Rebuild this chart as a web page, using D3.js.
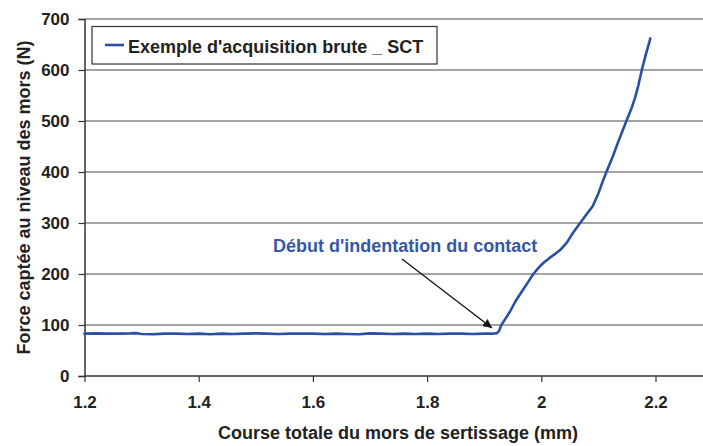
<!DOCTYPE html>
<html><head><meta charset="utf-8">
<script src="https://cdn.jsdelivr.net/npm/d3@7/dist/d3.min.js"></script>
<style>body{margin:0;background:#fff}svg{display:block}text{font-family:"Liberation Sans",Arial,sans-serif;font-weight:bold}</style>
</head><body>
<svg id="c" width="703" height="446"></svg>
<script>
const courseX = [1.20,1.22,1.24,1.26,1.28,1.29,1.30,1.32,1.34,1.36,1.38,1.40,1.42,1.44,1.46,1.48,1.50,1.52,1.54,1.56,1.58,1.60,1.62,1.64,1.66,1.68,1.70,1.72,1.74,1.76,1.78,1.80,1.82,1.84,1.86,1.88,1.90,1.915,1.922,1.926,1.930,1.937,1.945,1.955,1.968,1.978,1.986,1.995,2.003,2.015,2.025,2.033,2.045,2.055,2.068,2.080,2.090,2.100,2.108,2.114,2.125,2.135,2.149,2.158,2.164,2.170,2.176,2.183,2.191];
const forceY  = [83,83.5,83,83,83.5,84,82.5,82,83,83,82.5,83,82,83,82.5,83,83.5,83,82.5,83,83,83,82.5,83,82.5,82,83.5,83,82.5,83,82.5,83,82.5,83,83,82.5,83,83,84,88,100,112,126,147,169,186,200,212,221,232,240,247,262,280,300,318,333,358,383,400,430,460,500,525,545,570,600,630,662];
const xTicks = [1.2,1.4,1.6,1.8,2,2.2];
const yTicks = [0,100,200,300,400,500,600,700];
const legendLabel = "Exemple d'acquisition brute _ SCT";
const annotation = "Début d'indentation du contact";
const xTitle = "Course totale du mors de sertissage (mm)";
const yTitle = "Force captée au niveau des mors (N)";

const svg = d3.select("#c");
const L = 84.5, R = 703, T = 19, B = 376;
const x = d3.scaleLinear().domain([1.2, 2.2]).range([L, 655.5]);
const y = d3.scaleLinear().domain([0, 700]).range([B, T]);
const FONT = '"Liberation Sans",Arial,sans-serif';

// gridlines
svg.append("g").selectAll("line").data(yTicks.filter(d=>d>0)).join("line")
  .attr("x1", L).attr("x2", R).attr("y1", d=>y(d)).attr("y2", d=>y(d))
  .attr("stroke", "#848484").attr("stroke-width", 1.5);

// y axis
const ya = svg.append("g").attr("transform", `translate(${L},0)`)
  .call(d3.axisLeft(y).tickValues(yTicks).tickSize(6).tickPadding(9).tickFormat(d3.format("d")));
ya.select(".domain").attr("stroke", "#333").attr("stroke-width", 1.5);
ya.selectAll(".tick line").attr("stroke", "#333").attr("stroke-width", 1.2);
ya.selectAll("text").attr("font-size", 17).attr("fill", "#222").attr("font-family", FONT).attr("font-weight","bold");

// x axis
const xa = svg.append("g").attr("transform", `translate(0,${B})`)
  .call(d3.axisBottom(x).tickValues(xTicks).tickSize(6).tickPadding(14).tickFormat(d=>String(d)));
xa.select(".domain").remove();
xa.append("line").attr("x1", L).attr("x2", R).attr("stroke", "#333").attr("stroke-width", 1.5);
xa.selectAll(".tick line").attr("stroke", "#333").attr("stroke-width", 1.2);
xa.selectAll("text").attr("font-size", 17).attr("fill", "#222").attr("font-family", FONT).attr("font-weight","bold");

// data line
svg.append("path").datum(courseX.map((d,i)=>[d, forceY[i]]))
  .attr("fill", "none").attr("stroke", "#2b50a3").attr("stroke-width", 2.6)
  .attr("stroke-linejoin", "round").attr("stroke-linecap", "round")
  .attr("d", d3.line().x(d=>x(d[0])).y(d=>y(d[1])));

// legend
svg.append("rect").attr("x", 92).attr("y", 26.5).attr("width", 345).attr("height", 37.5)
  .attr("fill", "#fff").attr("stroke", "#333").attr("stroke-width", 1.2);
svg.append("line").attr("x1", 105).attr("x2", 124).attr("y1", 45).attr("y2", 45)
  .attr("stroke", "#2b50a3").attr("stroke-width", 2.6);
svg.append("text").attr("x", 128).attr("y", 52.5).attr("font-size", 18).attr("fill", "#222").text(legendLabel);

// annotation
svg.append("text").attr("x", 273).attr("y", 252).attr("font-size", 18).attr("fill", "#3557a8").text(annotation);
svg.append("defs").append("marker").attr("id","ah").attr("viewBox","0 0 10 10").attr("refX",10).attr("refY",5)
  .attr("markerWidth",9).attr("markerHeight",9).attr("markerUnits","userSpaceOnUse").attr("orient","auto")
  .append("path").attr("d","M0,0 L10,5 L0,10 z").attr("fill","#111");
svg.append("line").attr("x1", 402).attr("y1", 259).attr("x2", 492).attr("y2", 328)
  .attr("stroke", "#111").attr("stroke-width", 1.3).attr("marker-end","url(#ah)");

// titles
svg.append("text").attr("x", 398).attr("y", 439).attr("text-anchor","middle").attr("font-size", 18).attr("fill","#222").text(xTitle);
svg.append("text").attr("transform","translate(29.5,197.5) rotate(-90)").attr("text-anchor","middle").attr("font-size", 18).attr("fill","#222").text(yTitle);
</script>
</body></html>
